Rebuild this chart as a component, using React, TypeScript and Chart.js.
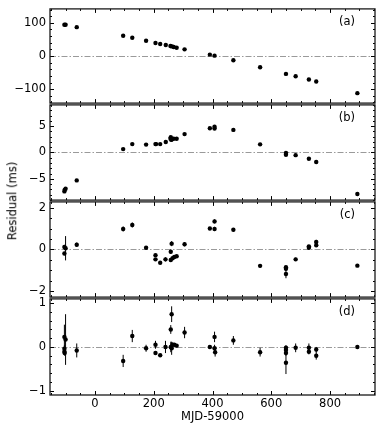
import React, { useEffect, useRef } from "react";
import { Chart, registerables } from "chart.js";
Chart.register(...registerables);

const FONT = "'DejaVu Sans', sans-serif";
const X_MIN = -153;
const X_MAX = 953;
const xTickValues = [0, 200, 400, 600, 800];
const xMinorStep = 50;
const xTitle = "MJD-59000";
const yTitle = "Residual (ms)";
const panelLabels = ["(a)", "(b)", "(c)", "(d)"];

// Panel (a)
const aX = [-104, -100, -62, 96, 127, 174, 206, 222, 241, 257, 262, 268, 278, 305, 391, 407, 471, 562, 650, 683, 728, 753, 893];
const aY = [94, 94, 87, 61, 55, 46, 39, 36, 33, 30, 29, 27, 25, 20, 4, 1, -13, -34, -54, -61, -71, -77, -112];
const aE = aX.map(() => 0);

// Panel (b)
const bX = [-104, -103, -100, -62, 96, 127, 174, 206, 208, 222, 241, 257, 258, 260, 262, 268, 278, 305, 391, 407, 407, 471, 562, 650, 650, 683, 728, 753, 893];
const bY = [-7.4, -7.1, -6.9, -5.3, 0.65, 1.6, 1.5, 1.6, 1.6, 1.6, 2.0, 2.6, 2.9, 2.4, 2.6, 2.6, 2.6, 3.5, 4.6, 4.9, 4.55, 4.3, 1.55, -0.1, -0.45, -0.5, -1.2, -1.8, -7.9];
const bE = bX.map(() => 0);

// Panel (c)
const cX = [-104, -104, -100, -62, 96, 127, 174, 206, 206, 222, 240, 258, 261, 258, 264, 270, 278, 305, 391, 407, 407, 471, 562, 650, 650, 650, 683, 728, 728, 753, 753, 893];
const cY = [0.12, -0.19, 0.06, 0.23, 0.98, 1.17, 0.08, -0.27, -0.47, -0.63, -0.47, -0.11, 0.28, -0.5, -0.42, -0.36, -0.32, 0.25, 1.0, 1.34, 0.98, 0.94, -0.78, -0.85, -0.92, -1.17, -0.47, 0.08, 0.15, 0.36, 0.2, -0.77];
const cE = [0.1, 0.08, 0.58, 0.1, 0.12, 0.12, 0.05, 0.06, 0.06, 0.05, 0.1, 0.1, 0.12, 0.06, 0.06, 0.05, 0.05, 0.1, 0.05, 0.1, 0.1, 0.08, 0.08, 0.08, 0.08, 0.2, 0.08, 0.08, 0.06, 0.1, 0.08, 0.05];

// Panel (d)
const dX = [-104, -104, -104, -103, -100, -62, 96, 127, 174, 206, 206, 222, 240, 258, 261, 258, 261, 264, 270, 278, 305, 391, 407, 407, 409, 471, 562, 650, 650, 650, 650, 683, 728, 728, 753, 753, 893];
const dY = [0.23, -0.04, -0.11, -0.14, 0.17, -0.08, -0.32, 0.25, -0.03, 0.05, -0.14, -0.19, 0.0, 0.4, 0.75, 0.0, -0.03, 0.05, 0.05, 0.03, 0.33, 0.0, 0.23, -0.03, -0.12, 0.15, -0.12, -0.02, -0.07, -0.14, -0.36, -0.02, -0.02, -0.11, -0.06, -0.2, 0.0];
const dE = [0.28, 0.08, 0.08, 0.06, 0.58, 0.16, 0.14, 0.14, 0.08, 0.09, 0.04, 0.03, 0.14, 0.1, 0.18, 0.12, 0.15, 0.05, 0.04, 0.04, 0.13, 0.04, 0.12, 0.08, 0.1, 0.1, 0.1, 0.06, 0.06, 0.06, 0.26, 0.1, 0.1, 0.06, 0.06, 0.09, 0.03];

// y axes
const aRange = [-142, 142];
const aTicks = [-100, 0, 100];
const aMinor = 20;
const bRange = [-9.05, 9.05];
const bTicks = [-5, 0, 5];
const bMinor = 1;
const cRange = [-2.27, 2.27];
const cTicks = [-2, 0, 2];
const cMinor = 0.5;
const dRange = [-1.1, 1.1];
const dTicks = [-1, 0, 1];
const dMinor = 0.2;

const fmt = (v: number) => (v < 0 ? "\u2212" + Math.abs(v) : String(v));

const panelPlugin = {
  id: "panelDeco",
  beforeDatasetsDraw(chart: any) {
    const { ctx, chartArea: ca, scales } = chart;
    const x = scales.x;
    const y = scales.y;
    ctx.save();
    const y0 = Math.round(y.getPixelForValue(0)) + 0.5;
    ctx.strokeStyle = "#9a9a9a";
    ctx.lineWidth = 1;
    ctx.setLineDash([6, 2, 1.5, 2]);
    ctx.beginPath();
    ctx.moveTo(ca.left, y0);
    ctx.lineTo(ca.right, y0);
    ctx.stroke();
    ctx.setLineDash([]);
    ctx.strokeStyle = "#000";
    ctx.lineWidth = 1;
    const pts = chart.data.datasets[0].data;
    pts.forEach((p: any) => {
      if (p.err > 0) {
        const px = x.getPixelForValue(p.x);
        ctx.beginPath();
        ctx.moveTo(px, y.getPixelForValue(p.y - p.err));
        ctx.lineTo(px, y.getPixelForValue(p.y + p.err));
        ctx.stroke();
      }
    });
    ctx.restore();
  },
  afterDraw(chart: any, _args: any, opts: any) {
    const { ctx, chartArea: ca, scales } = chart;
    const x = scales.x;
    const y = scales.y;
    ctx.save();
    ctx.strokeStyle = "#000";
    ctx.lineWidth = 1;
    const major = 4;
    const minor = 2;
    for (let v = Math.ceil(X_MIN / xMinorStep) * xMinorStep; v <= X_MAX; v += xMinorStep) {
      const len = xTickValues.includes(v) ? major : minor;
      const px = Math.round(x.getPixelForValue(v)) + 0.5;
      ctx.beginPath();
      ctx.moveTo(px, ca.bottom);
      ctx.lineTo(px, ca.bottom - len);
      ctx.moveTo(px, ca.top);
      ctx.lineTo(px, ca.top + len);
      ctx.stroke();
    }
    const yMajor: number[] = Array.from(opts.yTicks);
    const step = opts.yMinor;
    const start = Math.ceil(y.min / step);
    const end = Math.floor(y.max / step);
    for (let i = start; i <= end; i++) {
      const v = +(i * step).toFixed(6);
      const len = yMajor.some((m) => Math.abs(m - v) < 1e-6) ? major : minor;
      const py = Math.round(y.getPixelForValue(v)) + 0.5;
      ctx.beginPath();
      ctx.moveTo(ca.left, py);
      ctx.lineTo(ca.left + len, py);
      ctx.moveTo(ca.right, py);
      ctx.lineTo(ca.right - len, py);
      ctx.stroke();
    }
    ctx.strokeStyle = "#1a1a1a";
    ctx.lineWidth = 1.3;
    ctx.strokeRect(ca.left, ca.top, ca.right - ca.left, ca.bottom - ca.top);
    ctx.fillStyle = "#000";
    ctx.font = "11.5px " + FONT;
    ctx.textAlign = "right";
    ctx.textBaseline = "middle";
    ctx.fillText(opts.label, ca.right - 20, ca.top + 13);
    ctx.restore();
  },
};

type PanelProps = {
  top: number;
  bottom: number;
  xs: number[];
  ys: number[];
  es: number[];
  range: number[];
  ticks: number[];
  minorStep: number;
  label: string;
  showX: boolean;
};

function Panel(props: PanelProps) {
  const ref = useRef<HTMLCanvasElement | null>(null);
  const padTop = 10;
  const canvasTop = props.top - padTop;
  const canvasHeight = props.showX ? 432 - canvasTop : props.bottom - props.top + 20;
  const xAxisHeight = props.showX ? 432 - props.bottom : 0;

  useEffect(() => {
    if (!ref.current) return;
    const data = props.xs.map((xv, i) => ({ x: xv, y: props.ys[i], err: props.es[i] }));
    const chart = new Chart(ref.current, {
      type: "scatter",
      data: {
        datasets: [
          {
            data,
            pointRadius: 2.2,
            pointHoverRadius: 2.2,
            pointBackgroundColor: "#000",
            pointBorderColor: "#000",
            pointBorderWidth: 0,
          },
        ],
      },
      options: {
        animation: false,
        responsive: false,
        events: [],
        layout: { padding: { top: padTop, bottom: props.showX ? 0 : 10, left: 0, right: 8 } },
        plugins: {
          legend: { display: false },
          tooltip: { enabled: false },
          panelDeco: { label: props.label, yTicks: props.ticks, yMinor: props.minorStep },
        } as any,
        scales: {
          x: {
            type: "linear",
            min: X_MIN,
            max: X_MAX,
            display: props.showX,
            grid: { display: false, drawTicks: false, tickLength: 0 },
            border: { display: false },
            afterBuildTicks: (s: any) => {
              s.ticks = xTickValues.map((v) => ({ value: v }));
            },
            afterFit: (s: any) => {
              if (props.showX) s.height = xAxisHeight;
            },
            ticks: {
              padding: 2,
              color: "#000",
              font: { family: FONT, size: 11.5 },
              maxRotation: 0,
              autoSkip: false,
              callback: (v: any) => fmt(Number(v)),
            },
            title: {
              display: props.showX,
              text: xTitle,
              color: "#000",
              font: { family: FONT, size: 11.5 },
              padding: { top: 0, bottom: 8 },
            },
          },
          y: {
            type: "linear",
            min: props.range[0],
            max: props.range[1],
            grid: { display: false, drawTicks: false, tickLength: 0 },
            border: { display: false },
            afterBuildTicks: (s: any) => {
              s.ticks = props.ticks.map((v) => ({ value: v }));
            },
            afterFit: (s: any) => {
              s.width = 50;
            },
            ticks: {
              padding: 4,
              color: "#000",
              font: { family: FONT, size: 11.5 },
              autoSkip: false,
              callback: (v: any) => fmt(Number(v)),
            },
          },
        },
      },
      plugins: [panelPlugin as any],
    });
    return () => chart.destroy();
  }, []);

  return (
    <canvas
      ref={ref}
      width={383}
      height={canvasHeight}
      style={{ position: "absolute", left: 0, top: canvasTop, width: 383, height: canvasHeight }}
    />
  );
}

export default function App() {
  return (
    <div
      style={{
        position: "absolute",
        left: 0,
        top: 0,
        width: 383,
        height: 432,
        background: "#fff",
        overflow: "hidden",
      }}
    >
      <Panel top={8} bottom={104} xs={aX} ys={aY} es={aE} range={aRange} ticks={aTicks} minorStep={aMinor} label={panelLabels[0]} showX={false} />
      <Panel top={104} bottom={201} xs={bX} ys={bY} es={bE} range={bRange} ticks={bTicks} minorStep={bMinor} label={panelLabels[1]} showX={false} />
      <Panel top={201} bottom={298} xs={cX} ys={cY} es={cE} range={cRange} ticks={cTicks} minorStep={cMinor} label={panelLabels[2]} showX={false} />
      <Panel top={298} bottom={395} xs={dX} ys={dY} es={dE} range={dRange} ticks={dTicks} minorStep={dMinor} label={panelLabels[3]} showX={true} />
      <div
        style={{
          position: "absolute",
          left: 12.5,
          top: 201,
          transform: "translate(-50%, -50%) rotate(-90deg)",
          fontFamily: FONT,
          fontSize: 11.5,
          whiteSpace: "nowrap",
          color: "#000",
          lineHeight: 1,
        }}
      >
        {yTitle}
      </div>
    </div>
  );
}
